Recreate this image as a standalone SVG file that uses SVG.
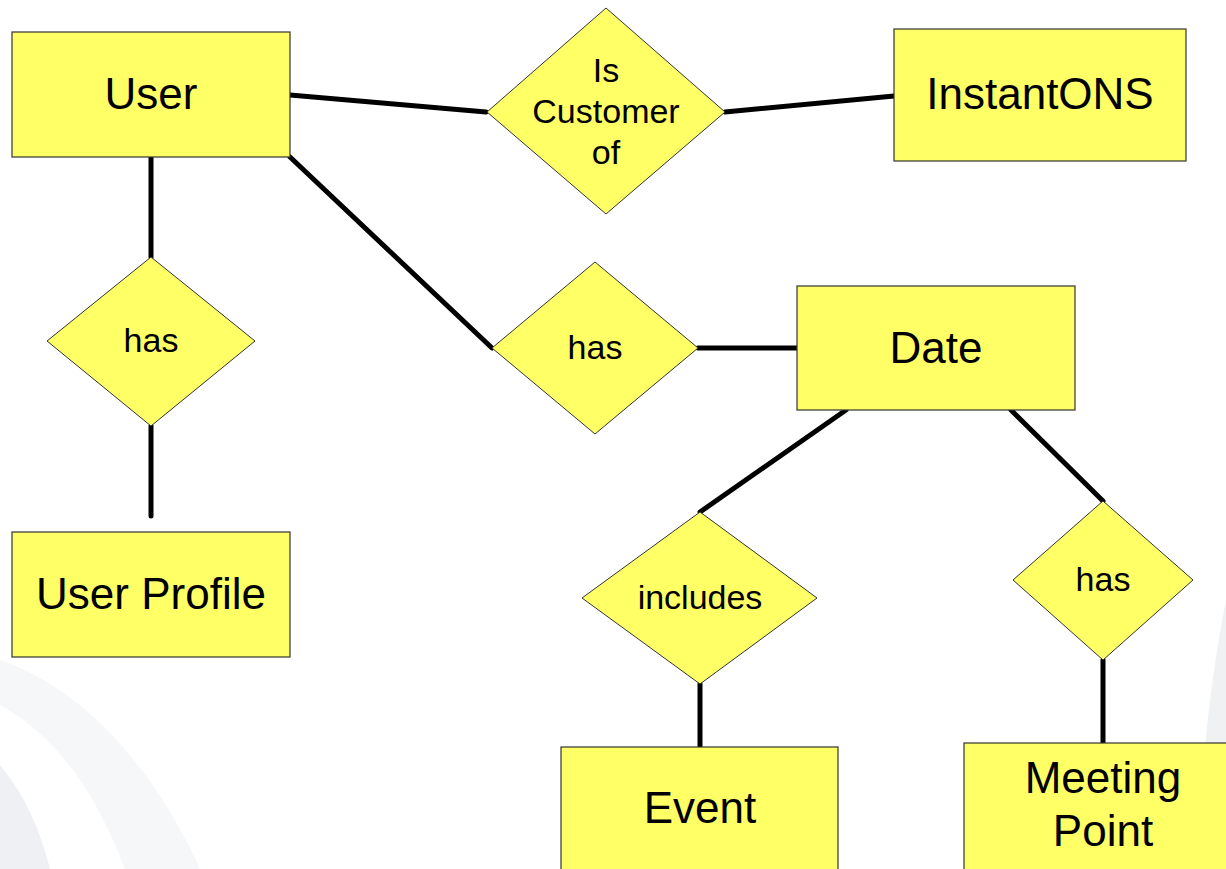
<svg xmlns="http://www.w3.org/2000/svg" width="1226" height="869" viewBox="0 0 1226 869">
<style>
.ent{fill:#FFFF66;stroke:#333;stroke-width:1.2}
.rel{fill:#FFFF66;stroke:#333;stroke-width:1}
.big{font-family:"Liberation Sans",Arial,sans-serif;font-size:44px;fill:#000;text-anchor:middle}
.sm{font-family:"Liberation Sans",Arial,sans-serif;font-size:34px;fill:#000;text-anchor:middle}
.c{stroke:#000;stroke-width:5;stroke-linecap:round;fill:none}
</style>
<rect width="1226" height="869" fill="#fff"/>
<g id="background">
<path d="M0,660 C90,690 160,780 200,869 L125,869 C95,790 55,735 0,705 Z" fill="#f6f7f9"/>
<path d="M0,765 C25,795 40,830 50,869 L0,869 Z" fill="#eef0f3"/>
<path d="M1226,600 C1210,680 1200,780 1196,869 L1226,869 Z" fill="#eff1f3"/>
</g>
<g id="connectors">
<line class="c" x1="290" y1="95" x2="486" y2="112"/>
<line class="c" x1="725" y1="112" x2="894" y2="96"/>
<line class="c" x1="151" y1="157" x2="151" y2="257"/>
<line class="c" x1="151" y1="426" x2="151" y2="516"/>
<line class="c" x1="290" y1="157" x2="492" y2="348"/>
<line class="c" x1="698" y1="348" x2="797" y2="348"/>
<line class="c" x1="846" y1="410" x2="700" y2="512"/>
<line class="c" x1="700" y1="684" x2="700" y2="747"/>
<line class="c" x1="1011" y1="410" x2="1103" y2="501"/>
<line class="c" x1="1103" y1="660" x2="1103" y2="744"/>
</g>
<g id="user">
<rect class="ent" x="12" y="32" width="278" height="125"/>
<text class="big" x="151" y="109">User</text>
</g>
<g id="instantons">
<rect class="ent" x="894" y="29" width="292" height="132"/>
<text class="big" x="1040" y="109">InstantONS</text>
</g>
<g id="is-customer-of">
<polygon class="rel" points="606,8 725,112 606,214 487,112"/>
<text class="sm" x="606" y="82">Is</text>
<text class="sm" x="606" y="123">Customer</text>
<text class="sm" x="606" y="164">of</text>
</g>
<g id="has-profile">
<polygon class="rel" points="151,257 255,341 151,426 47,341"/>
<text class="sm" x="151" y="352">has</text>
</g>
<g id="user-profile">
<rect class="ent" x="12" y="532" width="278" height="125"/>
<text class="big" x="151" y="609">User Profile</text>
</g>
<g id="has-date">
<polygon class="rel" points="595,262 698,348 595,434 492,348"/>
<text class="sm" x="595" y="359">has</text>
</g>
<g id="date">
<rect class="ent" x="797" y="286" width="278" height="124"/>
<text class="big" x="936" y="363">Date</text>
</g>
<g id="includes">
<polygon class="rel" points="700,512 817,598 700,684 582,598"/>
<text class="sm" x="700" y="609">includes</text>
</g>
<g id="has-meeting">
<polygon class="rel" points="1103,501 1193,580 1103,660 1013,580"/>
<text class="sm" x="1103" y="591">has</text>
</g>
<g id="event">
<rect class="ent" x="561" y="747" width="277" height="130"/>
<text class="big" x="700" y="823">Event</text>
</g>
<g id="meeting-point">
<rect class="ent" x="964" y="743" width="270" height="130"/>
<text class="big" x="1103" y="793">Meeting</text>
<text class="big" x="1103" y="846">Point</text>
</g>
</svg>
